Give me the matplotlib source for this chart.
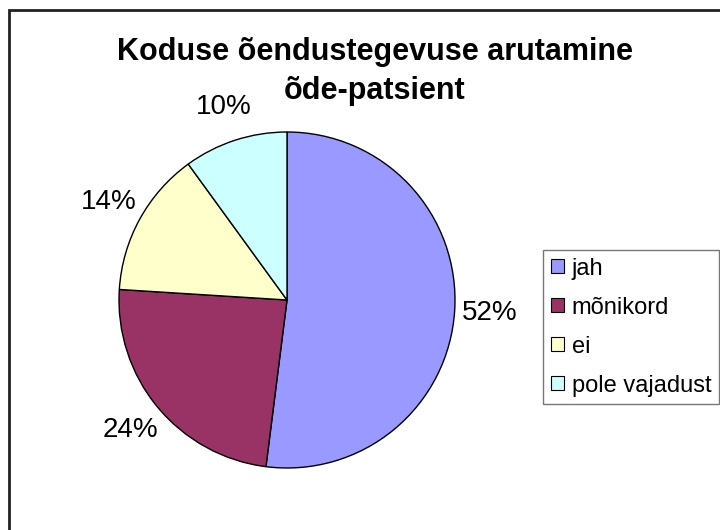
import matplotlib
matplotlib.use("Agg")
import matplotlib.pyplot as plt
from matplotlib.patches import Rectangle, Patch

categories = ["jah", "mõnikord", "ei", "pole vajadust"]
values = [52, 24, 14, 10]
colors = ["#9999FF", "#993366", "#FFFFCC", "#CCFFFF"]
title_lines = ["Koduse õendustegevuse arutamine", "õde-patsient"]

plt.rcParams['font.family'] = ['Liberation Sans', 'DejaVu Sans']

W, H = 720, 530
fig = plt.figure(figsize=(7.2, 5.3), dpi=100)
fig.patch.set_facecolor("white")

ax = fig.add_axes([0, 0, 1, 1])

wedges, texts, autotexts = ax.pie(
    values, colors=colors, startangle=90, counterclock=False,
    center=(287, H - 300), radius=168,
    autopct=lambda p: f"{p:.0f}%", pctdistance=1.21,
    wedgeprops=dict(edgecolor="black", linewidth=1.0),
    textprops=dict(fontsize=20, color="black"),
    frame=True,
)
ax.set_xlim(0, W)
ax.set_ylim(0, H)
ax.set_aspect("equal")
ax.axis("off")

# chart area border
fig.patches.append(Rectangle((9 / W, -0.1), 1.2, (H - 10) / H + 0.1,
                             transform=fig.transFigure, fill=False,
                             edgecolor="#222222", linewidth=2))

for i, line in enumerate(title_lines):
    fig.text(375 / W, 1 - (52 + 39 * i) / H, line, ha="center", va="center",
             fontsize=22, fontweight="bold")

handles = [Patch(facecolor=c, edgecolor="black", linewidth=0.8) for c in colors]
leg = fig.legend(handles, categories, loc="upper left",
                 bbox_to_anchor=(543 / W, 1 - 250 / H),
                 fontsize=17, frameon=True, fancybox=False,
                 edgecolor="#555555", handlelength=0.55, handleheight=0.55,
                 handletextpad=0.34, labelspacing=0.72, borderpad=0.32,
                 borderaxespad=0)
leg.get_frame().set_linewidth(1.0)

fig.savefig("out.png", dpi=100, facecolor="white")
